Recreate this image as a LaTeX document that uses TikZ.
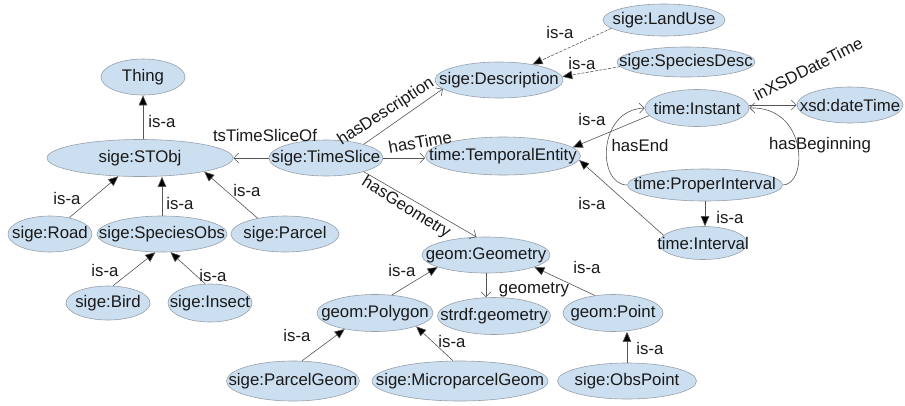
\documentclass[tikz,border=0pt]{standalone}
\usepackage{fontspec}
\setmainfont{Liberation Sans}
\usetikzlibrary{shapes.geometric,arrows.meta}
\definecolor{nodeblue}{RGB}{204,223,240}
\definecolor{nodeborder}{RGB}{150,160,170}
\definecolor{edgegray}{RGB}{85,85,85}
\definecolor{txt}{RGB}{25,25,25}
\tikzset{
  ent/.style={ellipse, draw=nodeborder, fill=nodeblue, line width=0.6pt, inner sep=0pt, text=txt, font=\fontsize{16.8}{18}\selectfont},
  isa/.style={draw=edgegray, line width=0.6pt, -{Triangle[length=10pt,width=8.5pt,fill=black]}},
  rel/.style={draw=edgegray, line width=0.6pt, -{Straight Barb[length=5pt,width=10pt,line width=0.6pt]}},
  relD/.style={isa, dash pattern=on 3pt off 1.5pt},
  lbl/.style={inner sep=0pt, text=txt, font=\fontsize{16.8}{18}\selectfont},
}
\newcommand{\T}[1]{\makebox[0pt]{#1}}
\begin{document}
\begin{tikzpicture}[x=1pt,y=-1pt]
\useasboundingbox (0,0) rectangle (905,405);
% nodes
\node[ent, minimum width=84, minimum height=36] (thing) at (143,77) {\T{Thing}};
\node[ent, minimum width=186, minimum height=37] (stobj) at (140,158) {\T{sige:STObj}};
\node[ent, minimum width=114, minimum height=36] (timeslice) at (326,158) {\T{sige:TimeSlice}};
\node[ent, minimum width=128, minimum height=36] (description) at (499,80) {\T{sige:Description}};
\node[ent, minimum width=155, minimum height=38] (temporal) at (503,156) {\T{time:TemporalEntity}};
\node[ent, minimum width=122, minimum height=32] (landuse) at (664,20) {\T{sige:LandUse}};
\node[ent, minimum width=138, minimum height=30] (speciesdesc) at (686,62) {\T{sige:SpeciesDesc}};
\node[ent, minimum width=104, minimum height=37] (instant) at (697,108) {\T{time:Instant}};
\node[ent, minimum width=106, minimum height=36] (datetime) at (850,105) {\T{xsd:dateTime}};
\node[ent, minimum width=155, minimum height=32] (proper) at (705,185) {\T{time:ProperInterval}};
\node[ent, minimum width=88, minimum height=33] (interval) at (703,243) {\T{time:Interval}};
\node[ent, minimum width=84, minimum height=36] (road) at (50,234) {\T{sige:Road}};
\node[ent, minimum width=130, minimum height=36] (speciesobs) at (162,234) {\T{sige:SpeciesObs}};
\node[ent, minimum width=108, minimum height=36] (parcel) at (285,234) {\T{sige:Parcel}};
\node[ent, minimum width=84, minimum height=34] (bird) at (108,303) {\T{sige:Bird}};
\node[ent, minimum width=84, minimum height=38] (insect) at (210,303) {\T{sige:Insect}};
\node[ent, minimum width=128, minimum height=36] (geometry) at (486,255) {\T{geom:Geometry}};
\node[ent, minimum width=116, minimum height=37] (polygon) at (375,313) {\T{geom:Polygon}};
\node[ent, minimum width=113, minimum height=37] (strdf) at (494,316) {\T{strdf:geometry}};
\node[ent, minimum width=100, minimum height=37] (point) at (613,313) {\T{geom:Point}};
\node[ent, minimum width=133, minimum height=40] (parcelgeom) at (293,381) {\T{sige:ParcelGeom}};
\node[ent, minimum width=176, minimum height=40] (micro) at (460,381) {\T{sige:MicroparcelGeom}};
\node[ent, minimum width=139, minimum height=36] (obspoint) at (627,381) {\T{sige:ObsPoint}};
% edges
\draw[isa] (stobj.north -| thing.south) -- (thing.south);
\draw[rel] (timeslice.west) -- (stobj.east);
\draw[isa] (road) -- (stobj);
\draw[isa] (speciesobs.north) -- (speciesobs.north |- stobj.south);
\draw[isa] (parcel.150) -- (stobj.-12);
\draw[isa] (bird.74) -- (speciesobs.250);
\draw[isa] (insect.104) -- (speciesobs.295);
\draw[rel] (timeslice.20) -- (description.189);
\draw[rel] (timeslice.east) -- (timeslice.east -| temporal.west);
\draw[rel] (timeslice.-20) -- (geometry.118);
\draw[relD] (landuse.189) -- (description.25);
\draw[relD] (speciesdesc.184) -- (description.3);
\draw[isa] (instant.189) -- (temporal.7);
\draw[isa] (interval.169) -- (temporal.-3);
\draw[isa] (proper.south) -- (proper.south |- interval.north);
\draw[rel] (instant.east |- datetime.west) -- (datetime.west);
\draw[rel] (proper.west) .. controls (597,185) and (597,110) .. (instant.west);
\draw[rel] (proper.east) .. controls (808,185) and (808,106) .. (instant.east);
\draw[isa] (polygon.47) -- (geometry.194);
\draw[rel] (geometry.south) -- (geometry.south |- strdf.north);
\draw[isa] (point.136) -- (geometry.-14);
\draw[isa] (parcelgeom.66) -- (polygon.208);
\draw[isa] (micro.109) -- (polygon.-18);
\draw[isa] (obspoint.north) -- (obspoint.north |- point.south);
% labels
\node[lbl] (l1) at (162,121) {is-a};
\node[lbl] (l2) at (265,135) {tsTimeSliceOf};
\node[lbl] (l3) at (67,198) {is-a};
\node[lbl] (l4) at (180,203) {is-a};
\node[lbl] (l5) at (247,190) {is-a};
\node[lbl] (l6) at (105,270) {is-a};
\node[lbl] (l7) at (213,275) {is-a};
\node[lbl, rotate=33] (l8) at (386,112) {hasDescription};
\node[lbl, rotate=10] (l9) at (420,142) {hasTime};
\node[lbl, rotate=-32] (l10) at (406,208) {hasGeometry};
\node[lbl] (l11) at (560,32) {is-a};
\node[lbl] (l12) at (582,63) {is-a};
\node[lbl] (l13) at (592,119) {is-a};
\node[lbl] (l14) at (592,203) {is-a};
\node[lbl] (l15) at (730,217) {is-a};
\node[lbl, rotate=27] (l16) at (808,69) {inXSDDateTime};
\node[lbl] (l17) at (640,145) {hasEnd};
\node[lbl] (l18) at (820,145) {hasBeginning};
\node[lbl] (l19) at (402,270) {is-a};
\node[lbl] (l20) at (534,290) {geometry};
\node[lbl] (l21) at (587,267) {is-a};
\node[lbl] (l22) at (297,335) {is-a};
\node[lbl] (l23) at (452,341) {is-a};
\node[lbl] (l24) at (650,348) {is-a};
\end{tikzpicture}
\end{document}
